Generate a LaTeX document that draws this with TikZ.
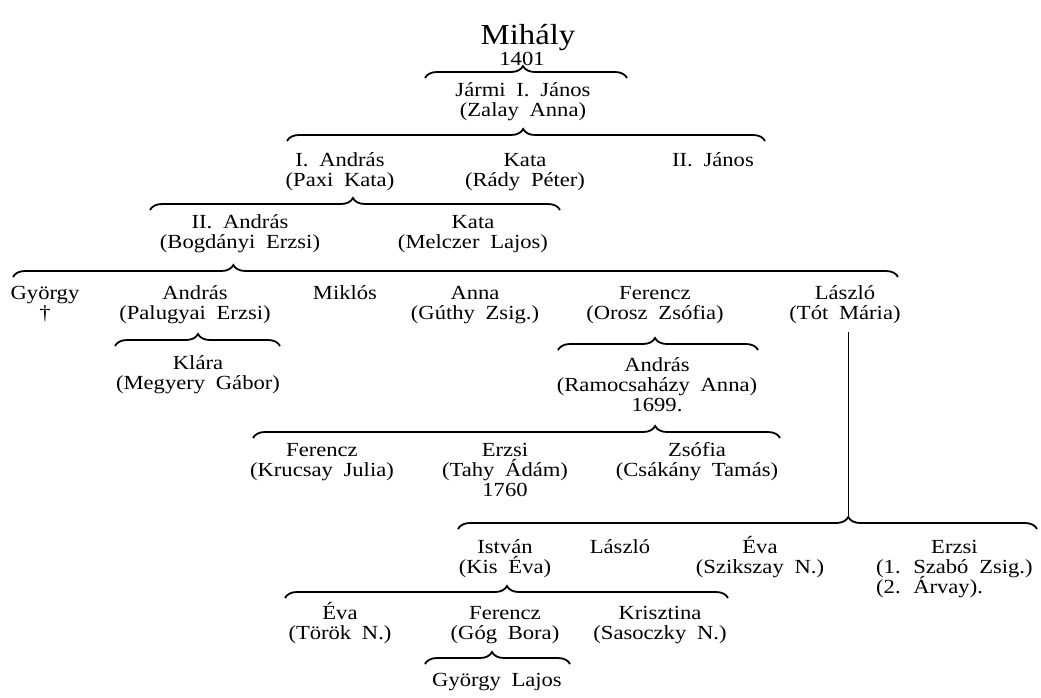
\documentclass[tikz,border=0pt]{standalone}
\usepackage{fontspec}
\setmainfont[FakeStretch=1.13, WordSpace=1.9]{Liberation Serif}
\usetikzlibrary{decorations.pathreplacing}
\newcommand\ptab[1]{\vtop{\def\\{\cr}\baselineskip=20pt\lineskiplimit=-30pt\lineskip=0pt\halign{\hfil##\hfil\cr#1\crcr}}}
\newcommand\ltab[1]{\vtop{\def\\{\cr}\baselineskip=20pt\lineskiplimit=-30pt\lineskip=0pt\halign{##\hfil\cr#1\crcr}}}
\tikzset{
  person/.style={inner sep=0pt, anchor=base, font=\fontsize{20}{20}\selectfont},
  famb/.style={line width=1.8pt, decorate, decoration={brace, amplitude=12pt, aspect=#1}},
  famb/.default=0.5,
  link/.style={line width=1pt}
}
\begin{document}
\begin{tikzpicture}[x=1pt,y=-1pt]
\useasboundingbox (0,0) rectangle (1041,697);
% generation 0
\node[person, font=\fontsize{29}{29}\selectfont] (mihaly) at (528,44) {Mihály};
\node[person] (y1401) at (522,65) {1401};
\node[person] (janos1) at (523,96) {\ptab{Jármi I. János\\(Zalay Anna)}};
% generation 2
\node[person] (iandras) at (340,166) {\ptab{I. András\\(Paxi Kata)}};
\node[person] (kata1) at (525,166) {\ptab{Kata\\(Rády Péter)}};
\node[person] (iijanos) at (713,166) {II. János};
% generation 3
\node[person] (iiandras) at (240,228) {\ptab{II. András\\(Bogdányi Erzsi)}};
\node[person] (kata2) at (473,228) {\ptab{Kata\\(Melczer Lajos)}};
% generation 4
\node[person] (gyorgy) at (45,299) {\ptab{György\\†}};
\node[person] (andras) at (195,299) {\ptab{András\\(Palugyai Erzsi)}};
\node[person] (miklos) at (345,299) {Miklós};
\node[person] (anna) at (475,299) {\ptab{Anna\\(Gúthy Zsig.)}};
\node[person] (ferencz) at (655,299) {\ptab{Ferencz\\(Orosz Zsófia)}};
\node[person] (laszlo) at (845,299) {\ptab{László\\(Tót Mária)}};
% generation 5
\node[person] (klara) at (198,369) {\ptab{Klára\\(Megyery Gábor)}};
\node[person] (andras2) at (657,371) {\ptab{András\\(Ramocsaházy Anna)\\1699.}};
% generation 6
\node[person] (ferencz2) at (322,456) {\ptab{Ferencz\\(Krucsay Julia)}};
\node[person] (erzsi) at (505,456) {\ptab{Erzsi\\(Tahy Ádám)\\1760}};
\node[person] (zsofia) at (697,456) {\ptab{Zsófia\\(Csákány Tamás)}};
% László's children
\node[person] (istvan) at (505,553) {\ptab{István\\(Kis Éva)}};
\node[person] (laszlo2) at (620,553) {László};
\node[person] (eva) at (760,553) {\ptab{Éva\\(Szikszay N.)}};
\node[person, anchor=base west] (erzsi2) at (876,553) {\ltab{\omit\hfil Erzsi\hfil\\(1. Szabó Zsig.)\\(2. Árvay).}};
% generation 8
\node[person] (eva2) at (340,619) {\ptab{Éva\\(Török N.)}};
\node[person] (ferencz3) at (505,619) {\ptab{Ferencz\\(Góg Bora)}};
\node[person] (krisztina) at (660,619) {\ptab{Krisztina\\(Sasoczky N.)}};
\node[person] (gyl) at (497,686) {György Lajos};
% braces
\draw[famb=0.485] (425,78) -- (627,78);
\draw[famb=0.494] (287,141) -- (765,141);
\draw[famb=0.495] (150,210) -- (560,210);
\draw[famb=0.249] (13,277) -- (898,277);
\draw[famb=0.503] (115,346) -- (280,346);
\draw[famb=0.485] (558,350) -- (758,350);
\draw[famb=0.763] (253,438) -- (780,438);
\draw[famb=0.674] (458,529) -- (1037,529);
\draw[famb=0.501] (285,598) -- (728,598);
\draw[famb=0.462] (425,664) -- (570,664);
% László's line of descent
\coordinate (ltip) at (848,517);
\path (laszlo.base) ++(0,33) coordinate (ltop0);
\draw[link] (ltop0 -| ltip) -- (ltip);
\end{tikzpicture}
\end{document}
